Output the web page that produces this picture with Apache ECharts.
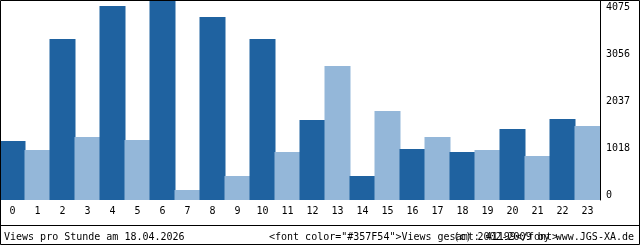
<!DOCTYPE html>
<html>
<head>
<meta charset="utf-8">
<script src="https://cdn.jsdelivr.net/npm/echarts@6/dist/echarts.min.js"></script>
<style>
html,body{margin:0;padding:0;background:#fff;}
#c{width:640px;height:245px;}
</style>
</head>
<body>
<div id="c"></div>
<script>
const hours = ['0','1','2','3','4','5','6','7','8','9','10','11','12','13','14','15','16','17','18','19','20','21','22','23'];
const views = [1202,1019,3280,1284,3953,1222,4075,204,3729,489,3280,978,1630,2730,489,1813,1039,1284,978,1019,1447,897,1650,1508];
const yMax = 4075;
const titleText = 'Views pro Stunde am 18.04.2026';
const creditText = '(c) 2002-2009 by www.JGS-XA.de';

const total = views.reduce((a, b) => a + b, 0);
const dark = '#1F62A0';
const light = '#94B7D9';
const mono = 'DejaVu Sans Mono';

const chart = echarts.init(document.getElementById('c'), null, {renderer: 'canvas'});
chart.setOption({
  animation: false,
  backgroundColor: '#fff',
  grid: [
    {left: 0, top: 0, width: 600, height: 200, containLabel: false},
    {left: 0, top: 7, width: 600, height: 188, containLabel: false}
  ],
  xAxis: [
    {
      type: 'category', gridIndex: 0, data: hours,
      axisLine: {show: false}, axisTick: {show: false},
      axisLabel: {margin: 6, color: '#000', fontFamily: mono, fontSize: 10, interval: 0}
    },
    {type: 'category', gridIndex: 1, data: hours, show: false}
  ],
  yAxis: [
    {
      type: 'value', gridIndex: 0, position: 'right', min: 0, max: yMax,
      axisLine: {show: true, lineStyle: {color: '#000', width: 1}},
      axisTick: {show: false}, axisLabel: {show: false}, splitLine: {show: false}
    },
    {
      type: 'value', gridIndex: 1, position: 'right', min: 0, max: yMax, interval: yMax / 4,
      axisLine: {show: false}, axisTick: {show: false}, splitLine: {show: false},
      axisLabel: {
        margin: 6, color: '#000', fontFamily: mono, fontSize: 10,
        formatter: v => String(Math.floor(v + 1e-6))
      }
    }
  ],
  series: [{
    type: 'bar', xAxisIndex: 0, yAxisIndex: 0, data: views,
    barCategoryGap: '0%', barWidth: 26,
    itemStyle: {color: p => (p.dataIndex % 2 === 0 ? dark : light)}
  }],
  graphic: [
    {type: 'rect', shape: {x: 0.5, y: 0.5, width: 639, height: 244}, style: {fill: null, stroke: '#000', lineWidth: 1}, z: 100},
    {type: 'line', shape: {x1: 0, y1: 225.5, x2: 640, y2: 225.5}, style: {stroke: '#000', lineWidth: 1}, z: 100},
    {type: 'text', x: 4, y: 237, style: {text: titleText, font: '10px "' + mono + '"', fill: '#000', verticalAlign: 'middle', align: 'left'}, z: 100},
    {type: 'text', x: 269, y: 237, style: {text: '<font color="#357F54">Views gesamt: ' + total + '</font>', font: '10px "' + mono + '"', fill: '#000', verticalAlign: 'middle', align: 'left'}, z: 100},
    {type: 'text', x: 634, y: 237, style: {text: creditText, font: '10px "' + mono + '"', fill: '#000', verticalAlign: 'middle', align: 'right'}, z: 100}
  ]
});
</script>
</body>
</html>
